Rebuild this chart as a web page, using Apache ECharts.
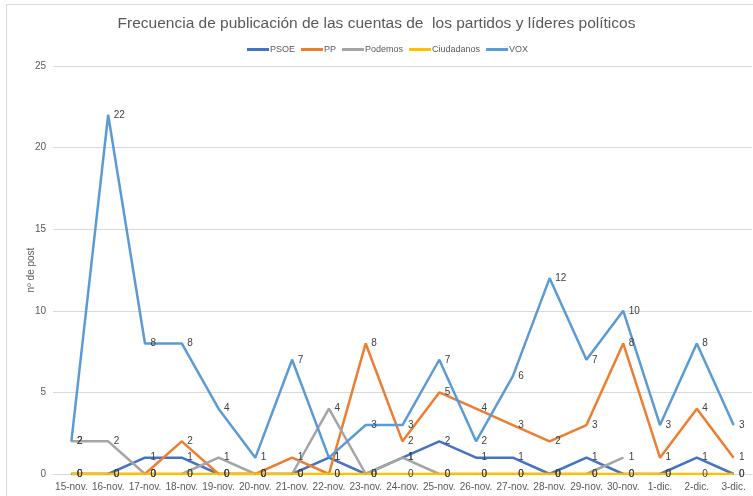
<!DOCTYPE html>
<html>
<head>
    <meta charset="utf-8">
    <script src="https://cdn.jsdelivr.net/npm/echarts@6/dist/echarts.min.js"></script>
    <style>
        html, body { margin: 0; padding: 0; background: #ffffff; }
        #chart { width: 753px; height: 496px; }
    </style>
</head>
<body>
    <div id="chart"></div>
    <script>
        // fechas del eje x
        var dias = ['15-nov.', '16-nov.', '17-nov.', '18-nov.', '19-nov.', '20-nov.', '21-nov.', '22-nov.',
            '23-nov.', '24-nov.', '25-nov.', '26-nov.', '27-nov.', '28-nov.', '29-nov.', '30-nov.',
            '1-dic.', '2-dic.', '3-dic.'];

        // publicaciones por partido
        var psoe = [0, 0, 1, 1, 0, 0, 0, 1, 0, 1, 2, 1, 1, 0, 1, 0, 0, 1, 0];
        var pp = [0, 0, 0, 2, 0, 0, 1, 0, 8, 2, 5, 4, 3, 2, 3, 8, 1, 4, 1];
        var podemos = [2, 2, 0, 0, 1, 0, 0, 4, 0, 1, 0, 0, 0, 0, 0, 1, null, null, null];
        var ciudadanos = [0, 0, 0, 0, 0, 0, 0, 0, 0, 0, 0, 0, 0, 0, 0, 0, 0, 0, 0];
        var vox = [2, 22, 8, 8, 4, 1, 7, 1, 3, 3, 7, 2, 6, 12, 7, 10, 3, 8, 3];

        var colores = ['#4472C4', '#ED7D31', '#A5A5A5', '#FFC000', '#5B9BD5'];
        var fuente = 'Liberation Sans';

        function serie(nombre, datos, color) {
            return {
                name: nombre,
                type: 'line',
                data: datos,
                symbol: 'circle',
                symbolSize: 1,
                itemStyle: { color: color },
                lineStyle: { width: 2.5, color: color },
                label: {
                    show: true,
                    position: 'right',
                    distance: 5,
                    fontSize: 10,
                    fontFamily: fuente,
                    color: '#404040'
                },
                emphasis: { disabled: true }
            };
        }

        var chart = echarts.init(document.getElementById('chart'));
        chart.setOption({
            animation: false,
            color: colores,
            textStyle: { fontFamily: fuente },
            title: {
                text: 'Frecuencia de publicación de las cuentas de  los partidos y líderes políticos',
                left: 'center',
                top: 11,
                textStyle: { fontSize: 15.5, fontWeight: 'normal', color: '#595959', fontFamily: fuente }
            },
            legend: {
                top: 40,
                left: 242,
                itemWidth: 22,
                itemHeight: 3,
                itemGap: 6,
                icon: 'rect',
                textStyle: { fontSize: 9, color: '#595959', fontFamily: fuente, padding: [0, 0, 0, -4] },
                data: ['PSOE', 'PP', 'Podemos', 'Ciudadanos', 'VOX']
            },
            graphic: [{
                type: 'rect',
                shape: { x: 6.5, y: 4.5, width: 800, height: 600 },
                style: { fill: 'none', stroke: '#d9d9d9', lineWidth: 1 },
                silent: true
            }],
            grid: { left: 53, right: 1, top: 66, bottom: 22 },
            xAxis: {
                type: 'category',
                data: dias,
                boundaryGap: true,
                axisLine: { lineStyle: { color: '#d9d9d9' } },
                axisTick: { show: false },
                axisLabel: { fontSize: 10, color: '#595959', margin: 8, interval: 0 }
            },
            yAxis: {
                type: 'value',
                min: 0,
                max: 25,
                interval: 5,
                name: 'nº de post',
                nameLocation: 'middle',
                nameGap: 17,
                nameMoveOverlap: false,
                nameTextStyle: { fontSize: 10, color: '#595959' },
                axisLine: { show: false },
                axisTick: { show: false },
                axisLabel: { fontSize: 10, color: '#595959', margin: 7 },
                splitLine: { lineStyle: { color: '#d9d9d9' } }
            },
            series: [
                serie('PSOE', psoe, colores[0]),
                serie('PP', pp, colores[1]),
                serie('Podemos', podemos, colores[2]),
                serie('Ciudadanos', ciudadanos, colores[3]),
                serie('VOX', vox, colores[4])
            ]
        });
    </script>
</body>
</html>
